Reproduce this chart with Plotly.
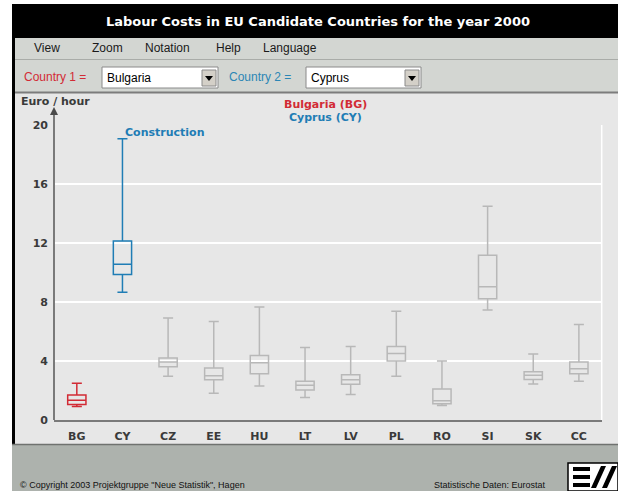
import plotly.graph_objects as go

W, H = 618, 491

# ---------------- data ----------------
categories = ["BG", "CY", "CZ", "EE", "HU", "LT", "LV", "PL", "RO", "SI", "SK", "CC"]
lower_whisker = [0.92, 8.65, 2.97, 1.82, 2.30, 1.53, 1.73, 2.97, 0.98, 7.45, 2.43, 2.62]
q1_values     = [1.05, 9.85, 3.60, 2.72, 3.13, 2.03, 2.42, 4.00, 1.10, 8.22, 2.75, 3.13]
median_values = [1.33, 10.55, 3.92, 2.99, 3.88, 2.35, 2.73, 4.50, 1.30, 9.02, 3.03, 3.47]
q3_values     = [1.69, 12.12, 4.20, 3.52, 4.36, 2.62, 3.06, 4.98, 2.10, 11.16, 3.27, 3.92]
upper_whisker = [2.49, 19.05, 6.90, 6.67, 7.65, 4.91, 4.98, 7.37, 4.00, 14.47, 4.47, 6.46]
y_ticks = [0, 4, 8, 12, 16, 20]
country1, country2 = "BG", "CY"

RED = "#d22b35"
BLUE = "#1f7db5"
GRAY = "#b8b8b8"
TXT = "#3a3a3a"


def px(x):
    return x / W


def py(y):
    return 1 - y / H


fig = go.Figure()
for i, c in enumerate(categories):
    col = RED if c == country1 else (BLUE if c == country2 else GRAY)
    fig.add_trace(go.Box(
        x=[c], q1=[q1_values[i]], median=[median_values[i]], q3=[q3_values[i]],
        lowerfence=[lower_whisker[i]], upperfence=[upper_whisker[i]],
        line=dict(color=col, width=1.5), fillcolor="rgba(0,0,0,0)",
        width=0.4, whiskerwidth=0.55, hoverinfo="skip", showlegend=False,
    ))

shapes = []


def rect(x0, y0, x1, y1, fill, line=None, lw=0, layer="below"):
    shapes.append(dict(type="rect", xref="paper", yref="paper",
                       x0=px(x0), x1=px(x1), y0=py(y1), y1=py(y0),
                       fillcolor=fill, line=dict(color=line or fill, width=lw), layer=layer))


def hline(x0, x1, y, color, lw=1, layer="below"):
    shapes.append(dict(type="line", xref="paper", yref="paper",
                       x0=px(x0), x1=px(x1), y0=py(y), y1=py(y),
                       line=dict(color=color, width=lw), layer=layer))


def vline(x, y0, y1, color, lw=1, layer="below"):
    shapes.append(dict(type="line", xref="paper", yref="paper",
                       x0=px(x), x1=px(x), y0=py(y0), y1=py(y1),
                       line=dict(color=color, width=lw), layer=layer))


def poly(points, fill, layer="above"):
    path = "M " + " L ".join(f"{px(a)},{py(b)}" for a, b in points) + " Z"
    shapes.append(dict(type="path", xref="paper", yref="paper", path=path,
                       fillcolor=fill, line=dict(color=fill, width=0), layer=layer))


# frame
rect(12, 4, 618, 445, "#000000")
rect(15, 38, 618, 59, "#d3d6d2")
rect(15, 60, 618, 92, "#d3d6d2")
hline(15, 618, 59.5, "#a9aca8", 1)
rect(15, 93, 618, 445, "#e7e7e7")
hline(15, 618, 92.5, "#7c7c7c", 2)
rect(12, 445, 618, 491, "#adb2ad")
hline(12, 618, 444.5, "#6f726f", 1.5)

# dropdowns
for x0, x1 in [(102, 218), (306, 421)]:
    rect(x0, 67, x1, 88, "#ffffff", "#8a8a8a", 1)
    rect(x1 - 16, 70, x1 - 2, 86, "#d4d0c8", "#8a8a8a", 1, layer="above")
    cx = x1 - 9
    poly([(cx - 4, 76), (cx + 4, 76), (cx, 81)], "#000000")

# plot right border
vline(601.7, 125, 420, "#ffffff", 1.5)
# y axis line with arrow
vline(54, 420, 112, "#7a7a7a", 2, layer="above")
poly([(50, 115), (58, 115), (54, 107)], "#4a4a4a")

# logo
rect(568, 463, 618, 491, "#ffffff", "#000000", 1.5, layer="above")
for yy in (467, 475, 483):
    poly([(573, yy), (590, yy), (590, yy + 4), (573, yy + 4)], "#000000")
poly([(591, 488), (596, 488), (606, 466), (601, 466)], "#000000")
poly([(602, 488), (607, 488), (617, 466), (612, 466)], "#000000")

F = "DejaVu Sans"
A = "Liberation Sans"
annotations = []


def txt(x, y, s, size, color, family=F, bold=False, xanchor="left"):
    annotations.append(dict(x=px(x), y=py(y), xref="paper", yref="paper", text=s,
                            showarrow=False, xanchor=xanchor, yanchor="middle",
                            font=dict(family=family, size=size, color=color,
                                      weight="bold" if bold else "normal")))


txt(318, 21, "Labour Costs in EU Candidate Countries for the year 2000", 13, "#ffffff", bold=True, xanchor="center")
for x, s in [(32, "View"), (90, "Zoom"), (143, "Notation"), (214, "Help"), (261, "Language")]:
    txt(x, 48, s, 12, "#1a1a1a", family=A)
txt(22, 77, "Country 1 =", 12, RED, family=A)
txt(105, 78, "Bulgaria", 12, "#000000", family=A)
txt(227, 77, "Country 2 =", 12, "#2b86b5", family=A)
txt(309, 78, "Cyprus", 12, "#000000", family=A)
txt(19, 101, "Euro / hour", 11, TXT, bold=True)
txt(326, 104, "Bulgaria (BG)", 11, RED, bold=True, xanchor="center")
txt(326, 117, "Cyprus (CY)", 11, BLUE, bold=True, xanchor="center")
txt(123, 133, "Construction", 11, BLUE, bold=True)
txt(18, 485, "© Copyright 2003 Projektgruppe \"Neue Statistik\", Hagen", 9, "#111111", family=A)
txt(432, 485, "Statistische Daten: Eurostat", 9, "#111111", family=A)

fig.update_layout(
    width=W, height=H, autosize=False,
    margin=dict(l=0, r=0, t=0, b=0, pad=0, autoexpand=False),
    paper_bgcolor="#ffffff", plot_bgcolor="rgba(0,0,0,0)",
    boxmode="overlay", showlegend=False,
    shapes=shapes, annotations=annotations,
    xaxis=dict(domain=[px(54), px(601.7)], type="category", categoryorder="array",
               categoryarray=categories, range=[-0.5, 11.5], showgrid=False,
               showline=True, linecolor="#7a7a7a", linewidth=2, ticks="",
               tickfont=dict(family=F, size=11, color=TXT, weight="bold"),
               ticklabelstandoff=5, zeroline=False, fixedrange=True, automargin=False),
    yaxis=dict(domain=[py(420), py(124.7)], range=[0, 20], tickvals=y_ticks,
               showgrid=True, gridcolor="#ffffff", gridwidth=1.5, showline=False,
               ticks="", zeroline=False, ticklabelstandoff=5,
               tickfont=dict(family=F, size=11, color=TXT, weight="bold"),
               fixedrange=True, automargin=False),
)

fig.write_html(
    "out.html",
    config={"displayModeBar": False},
    post_script="document.body.style.margin='0';document.body.style.overflow='hidden';",
)
